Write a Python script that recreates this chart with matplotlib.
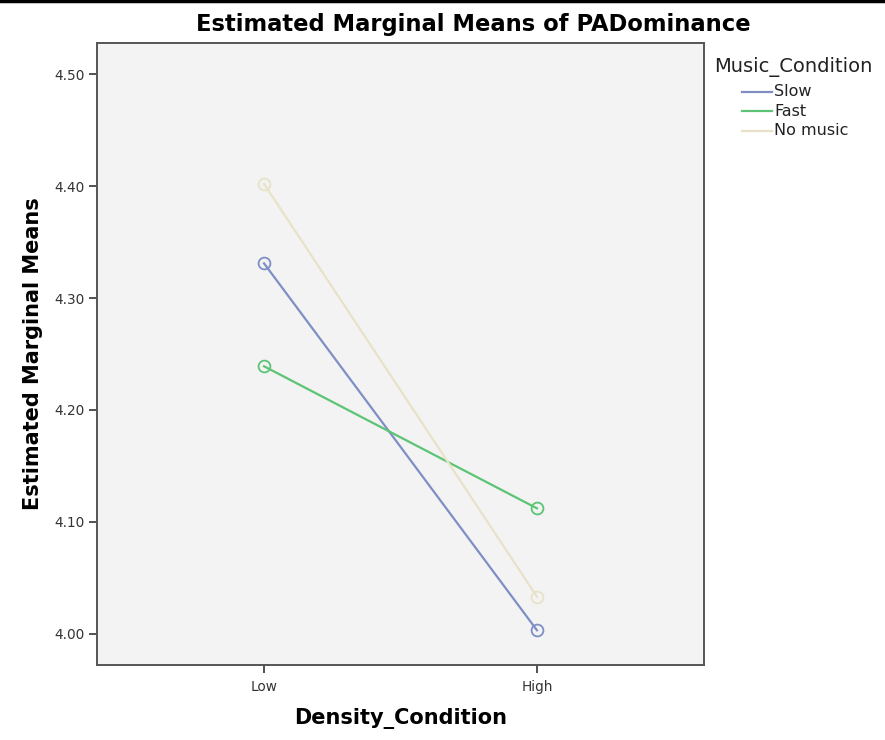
import matplotlib
matplotlib.use('Agg')
import matplotlib.pyplot as plt
from matplotlib.lines import Line2D

# estimated marginal means by density and music condition
density_levels = ['Low', 'High']
music_levels = ['Slow', 'Fast', 'No music']
slow_means = [4.331, 4.003]
fast_means = [4.239, 4.112]
nomusic_means = [4.402, 4.033]
y_ticks = [4.00, 4.10, 4.20, 4.30, 4.40, 4.50]

colors = {'Slow': '#7f8fc6', 'Fast': '#5cc474', 'No music': '#e9e2c8'}
series = {'Slow': slow_means, 'Fast': fast_means, 'No music': nomusic_means}

plt.rcParams['font.family'] = ['DejaVu Sans']

fig = plt.figure(figsize=(8.85, 7.4), dpi=100)
ax = fig.add_axes([0.1096, 0.1014, 0.6859, 0.8405])
ax.set_facecolor('#f3f3f3')

x = list(range(len(density_levels)))
for name in music_levels:
    ax.plot(x, series[name], color=colors[name], lw=1.6,
            marker='o', markersize=8.5, markerfacecolor='none',
            markeredgecolor=colors[name], markeredgewidth=1.3)

ax.set_xlim(-0.612, 1.612)
ax.set_ylim(3.972, 4.528)
ax.set_xticks(x)
ax.set_xticklabels(density_levels)
ax.set_yticks(y_ticks)
ax.set_yticklabels(['%.2f' % v for v in y_ticks])
ax.tick_params(axis='both', direction='out', length=6, width=1.2,
               color='#333333', labelsize=9.8, labelcolor='#333333', pad=3)
ax.tick_params(axis='x', pad=5)

for s in ax.spines.values():
    s.set_color('#555555')
    s.set_linewidth(1.4)

ax.set_xlabel('Density_Condition', fontsize=15, fontweight='bold', labelpad=10)
ax.set_ylabel('Estimated Marginal Means', fontsize=15, fontweight='bold', labelpad=8)
fig.text(0.535, 0.967, 'Estimated Marginal Means of PADominance', ha='center', va='center',
         fontsize=16.3, fontweight='bold')

# legend drawn by hand to keep the SPSS-like layout
fig.text(0.807, 0.910, 'Music_Condition', ha='left', va='center', fontsize=14, color='#222222')
for i, name in enumerate(music_levels):
    yy = 0.876 - i * 0.0265
    fig.add_artist(Line2D([0.838, 0.872], [yy, yy], color=colors[name], lw=1.6,
                          transform=fig.transFigure))
    fig.text(0.875, yy, name, ha='left', va='center', fontsize=11.5, color='#222222')

# black rule along the top edge
fig.add_artist(Line2D([0, 1], [0.998, 0.998], color='black', lw=2.5,
                      transform=fig.transFigure))

fig.savefig('out.png', dpi=100)
